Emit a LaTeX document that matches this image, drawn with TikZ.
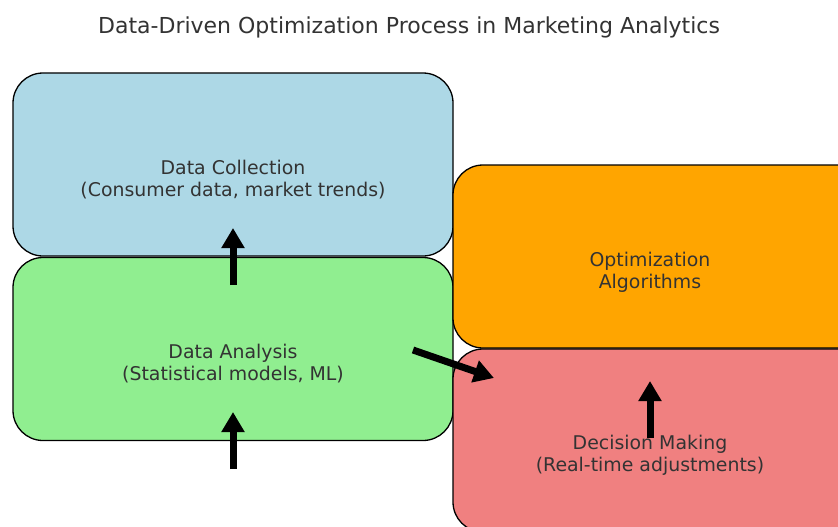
\documentclass[tikz,border=0pt]{standalone}
\usepackage{fontspec}
\setmainfont{DejaVu Sans}
\usepackage{tikz}
\usetikzlibrary{positioning}
\usetikzlibrary{arrows.meta}
\usepackage{xcolor}

\definecolor{lightblue}{HTML}{ADD8E6}
\definecolor{lightgreen}{HTML}{90EE90}
\definecolor{orangebox}{HTML}{FFA500}
\definecolor{lightcoral}{HTML}{F08080}
\definecolor{textgray}{HTML}{333333}

\tikzset{
    stagebox/.style={draw=black, line width=1.3pt, rounded corners=30pt,
        minimum width=440pt, minimum height=183pt, inner sep=0pt},
    stagetext/.style={align=center, text=textgray, font=\fontsize{18.9}{22}\selectfont},
    bigarrow/.style={line width=7pt, -{Triangle[length=20pt,width=22pt]}}
}

\begin{document}
\begin{tikzpicture}[x=1pt, y=-1pt]
    \clip (0,0) rectangle (838,527);
    \fill[white] (0,0) rectangle (838,527);

    \node[text=textgray, font=\fontsize{22}{26}\selectfont] (title) at (409,27.5) {Data-Driven Optimization Process in Marketing Analytics};

    % boxes
    \node[stagebox, fill=lightgreen] (analysis) at (233,349) {};
    \node[stagebox, fill=lightblue] (collection) at (233,164.5) {};
    \node[stagebox, fill=lightcoral] (decision) at (673,440.5) {};
    \node[stagebox, fill=orangebox] (optim) at (673,256.5) {};

    \node[stagetext] (collectiontxt) at (233,180) {Data Collection\\(Consumer data, market trends)};
    \node[stagetext] (analysistxt) at (233,364) {Data Analysis\\(Statistical models, ML)};
    \node[stagetext] (optimtxt) at (650,272) {Optimization\\Algorithms};
    \node[stagetext] (decisiontxt) at (650,455) {Decision Making\\(Real-time adjustments)};

    % arrows
    \coordinate (a1s) at (233,285);
    \coordinate (a1e) at (233,228);
    \coordinate (a2s) at (233,469);
    \coordinate (a2e) at (233,412);
    \coordinate (a3s) at (413,350);
    \coordinate (a3e) at (494,378);
    \coordinate (a4s) at (650,438);
    \coordinate (a4e) at (650,381);

    \draw[bigarrow] (a1s) -- (a1e);
    \draw[bigarrow] (a2s) -- (a2e);
    \draw[bigarrow] (a3s) -- (a3e);
    \draw[bigarrow] (a4s) -- (a4e);
\end{tikzpicture}
\end{document}
